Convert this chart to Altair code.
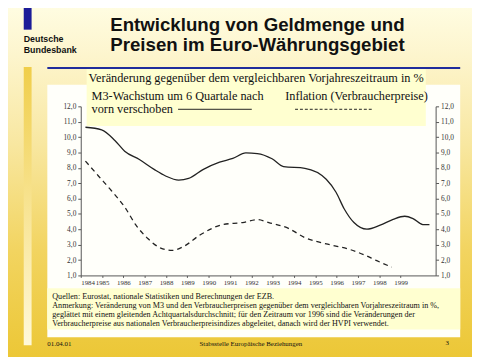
import altair as alt
import pandas as pd

# ---------------- data ----------------
m3_t = [1984.22, 1984.98, 1985.60, 1986.06, 1986.75, 1987.44, 1987.98, 1988.59, 1989.06,
        1989.75, 1990.51, 1991.13, 1991.74, 1992.28, 1992.97, 1993.51, 1994.51, 1995.51,
        1995.97, 1996.35, 1996.81, 1997.42, 1998.04, 1998.65, 1999.19, 1999.58, 2000.04, 2000.35]
m3_v = [10.64, 10.47, 9.78, 9.08, 8.54, 7.90, 7.47, 7.20, 7.31,
        7.90, 8.37, 8.61, 8.97, 8.93, 8.59, 8.08, 7.97, 7.26,
        6.41, 5.34, 4.44, 4.01, 4.27, 4.65, 4.85, 4.70, 4.31, 4.31]

cpi_t = [1984.22, 1984.83, 1985.44, 1986.06, 1986.59, 1987.13, 1987.75, 1988.29, 1988.82,
         1989.59, 1990.67, 1991.59, 1992.28, 1992.82, 1993.74, 1994.51, 1995.58, 1996.66,
         1997.27, 1997.88, 1998.58]
cpi_v = [8.44, 7.47, 6.51, 5.45, 4.27, 3.42, 2.78, 2.63, 2.88,
         3.63, 4.31, 4.44, 4.63, 4.44, 4.06, 3.46, 3.03, 2.67,
         2.35, 1.96, 1.54]

year_ticks = list(range(1984, 2000))
y_ticks = list(range(1, 13))

title_lines = ["Entwicklung von Geldmenge und", "Preisen im Euro-Währungsgebiet"]
logo_lines = ["Deutsche", "Bundesbank"]
subtitle = "Veränderung gegenüber dem vergleichbaren Vorjahreszeitraum in %"
legend_m3 = ["M3-Wachstum um 6 Quartale nach", "vorn verschoben"]
legend_cpi = "Inflation (Verbraucherpreise)"
caption_lines = [
    "Quellen: Eurostat, nationale Statistiken und Berechnungen der EZB.",
    "Anmerkung: Veränderung von M3 und den Verbraucherpreisen gegenüber dem vergleichbaren Vorjahreszeitraum in %,",
    "geglättet mit einem gleitenden Achtquartalsdurchschnitt; für den Zeitraum vor 1996 sind die Veränderungen der",
    "Verbraucherpreise aus nationalen Verbraucherpreisindizes abgeleitet, danach wird der HVPI verwendet.",
]
footer = ["01.04.01", "Stabsstelle Europäische Beziehungen", "3"]

# ---------------- layout helpers ----------------
OX, OY = 82, 105  # page coords of plot origin
SERIF = "Liberation Serif"
SANS = "Liberation Sans"
base = alt.Chart(alt.Data(values=[{"a": 1}]))


def box(x1, y1, x2, y2, fill):
    return base.mark_rect(fill=fill, strokeWidth=0).encode(
        x=alt.value(x1 - OX), x2=alt.value(x2 - OX),
        y=alt.value(y1 - OY), y2=alt.value(y2 - OY))


def rule(x1, x2, y, color, width, dash=None):
    kw = dict(color=color, strokeWidth=width)
    if dash:
        kw["strokeDash"] = dash
    return base.mark_rule(**kw).encode(
        x=alt.value(x1 - OX), x2=alt.value(x2 - OX), y=alt.value(y - OY))


def txt(s, px, py, size, font, weight="normal", align="left", color="#111111"):
    return base.mark_text(text=s, align=align, baseline="alphabetic", fontSize=size,
                          font=font, fontWeight=weight, color=color).encode(
        x=alt.value(px - OX), y=alt.value(py - OY))


bg = base.mark_rect(
    fill=alt.Gradient(gradient="linear", x1=0, x2=0, y1=0, y2=1, stops=[
        alt.GradientStop(color="#FFFDE3", offset=0),
        alt.GradientStop(color="#FDF5CD", offset=0.15),
        alt.GradientStop(color="#F8E7A0", offset=0.4),
        alt.GradientStop(color="#F2D460", offset=0.7),
        alt.GradientStop(color="#ECC736", offset=1),
    ])).encode(x=alt.value(-OX), x2=alt.value(480 - OX), y=alt.value(-OY), y2=alt.value(360 - OY))

strip = base.mark_rect(
    fill=alt.Gradient(gradient="linear", x1=0, x2=0, y1=0, y2=1, stops=[
        alt.GradientStop(color="#F0CE4A", offset=0),
        alt.GradientStop(color="#FFF9DA", offset=1),
    ])).encode(x=alt.value(24 - OX), x2=alt.value(32 - OX), y=alt.value(65 - OY), y2=alt.value(348 - OY))

decor = [
    bg, strip,
    box(24, 4, 32, 27, "#1C1C98"),
    rule(48, 468, 66, "#1F2C9C", 2),
    box(48, 83, 468, 340, "#FFFFFA"),
    box(88, 67, 433, 125, "#FFFFD0"),
    box(48, 290, 468, 332, "#FFFFD0"),
    txt(title_lines[0], 112, 28.5, 19, SANS, "bold"),
    txt(title_lines[1], 112, 49, 19, SANS, "bold"),
    txt(logo_lines[0], 24, 39.5, 9, SANS, "bold"),
    txt(logo_lines[1], 24, 51, 9, SANS, "bold"),
    txt(subtitle, 90, 80.5, 12.5, SERIF),
    txt(legend_m3[0], 93, 98.5, 12.5, SERIF),
    txt(legend_m3[1], 93, 112, 12.5, SERIF),
    txt(legend_cpi, 290, 98.5, 12.5, SERIF),
    rule(181, 256, 108, "#222222", 1),
    rule(300, 380, 108, "#222222", 1, [3, 2]),
]
for i, line in enumerate(caption_lines):
    decor.append(txt(line, 53, 301 + i * 9.3, 8.25, SERIF))
decor.append(txt(footer[0], 48, 349, 7, SERIF))
decor.append(txt(footer[1], 255, 349, 7, SERIF, align="center"))
decor.append(txt(footer[2], 453, 348, 7, SERIF))

# ---------------- lines ----------------
df_m3 = pd.DataFrame({"t": m3_t, "v": m3_v})
df_cpi = pd.DataFrame({"t": cpi_t, "v": cpi_v})

label_expr = "replace(format(datum.value, '.1f'), '.', ',')"
x_enc = alt.X("t:Q", scale=alt.Scale(domain=[1984, 2000.64], nice=False, zero=False),
              axis=alt.Axis(values=year_ticks, format="d", title=None, grid=False,
                            labelFlush=True, tickSize=2, labelPadding=1,
                            labelFont=SERIF, labelFontSize=7, labelColor="#333333",
                            domainColor="#555555", tickColor="#555555", zindex=1))


def y_enc(orient):
    return alt.Y("v:Q", scale=alt.Scale(domain=[1, 12], nice=False, zero=False),
                 axis=alt.Axis(orient=orient, values=y_ticks, labelExpr=label_expr, title=None,
                               grid=False, tickSize=3, labelPadding=2, labelFont=SERIF,
                               labelFontSize=7.5, labelColor="#333333",
                               domainColor="#555555", tickColor="#555555", zindex=1))


m3_line = alt.Chart(df_m3).mark_line(color="#222222", strokeWidth=1.3, interpolate="monotone").encode(
    x=x_enc, y=y_enc("left"))
cpi_line = alt.Chart(df_cpi).mark_line(color="#222222", strokeWidth=1.3, strokeDash=[5, 4],
                                       interpolate="monotone").encode(
    x=x_enc, y=y_enc("right"))

chart = alt.layer(*decor, m3_line, cpi_line).resolve_axis(y="independent").properties(
    width=361, height=172,
    padding={"left": 74, "top": 97, "right": 37, "bottom": 83},
    autosize=alt.AutoSizeParams(type="none"),
    background="#FFFFFF",
).configure_view(stroke=None)

chart.save("out.html", embed_options={"renderer": "svg", "actions": False})
